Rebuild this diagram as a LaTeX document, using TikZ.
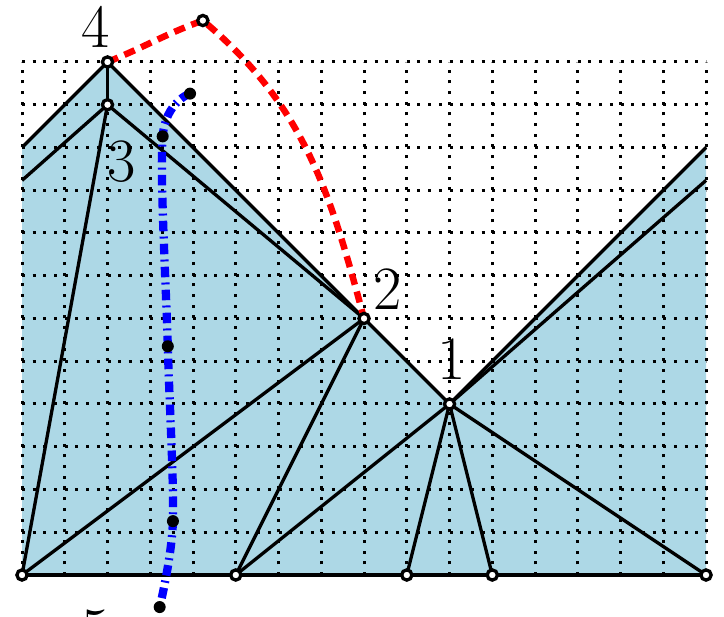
\documentclass[tikz,border=0pt]{standalone}
\usepackage{tikz}
\usetikzlibrary{arrows.meta,positioning}
\definecolor{lakeblue}{RGB}{173,216,230}
\tikzset{pt/.style={circle,draw,fill=white,line width=2.2pt,minimum size=6.8pt,inner sep=0pt},
bdot/.style={circle,fill=black,minimum size=8pt,inner sep=0pt},
seg/.style={line width=2.2pt},
lbl/.style={font=\fontsize{41}{45}\selectfont,inner sep=0pt},
griddot/.style={line width=2pt,dash pattern=on 2pt off 5.113pt},
redpath/.style={red,line width=4.3pt,dash pattern=on 7.5pt off 4.7pt},
bluepath/.style={blue,line width=5.5pt,dash pattern=on 7pt off 3.5pt on 1.3pt off 3.5pt}}
\begin{document}
\begin{tikzpicture}
\useasboundingbox(-0.515,-0.96)rectangle(16.42,13.45);
\coordinate(p1)at(10,4);\coordinate(p2)at(8,6);\coordinate(p3)at(2,11);\coordinate(p4)at(2,12);
\coordinate(a)at(0,0);\coordinate(b)at(5,0);\coordinate(c)at(9,0);\coordinate(d)at(11,0);\coordinate(e)at(16,0);
\coordinate(l1)at(0,10);\coordinate(l2)at(0,9.23);\coordinate(r1)at(16,10);\coordinate(r2)at(16,9.23);
\coordinate(q)at(4.23,12.97);
\coordinate(s1)at(3.93,11.26);\coordinate(s2)at(3.29,10.26);\coordinate(s3)at(3.41,5.35);\coordinate(s4)at(3.53,1.26);\coordinate(s5)at(3.22,-0.75);
% shaded region and grid
\fill[lakeblue](a)--(e)--(r1)--(p1)--(p2)--(p4)--(l1)--cycle;
\draw[griddot](0,0)grid(16,12);
\foreach\u/\v in{p4/p3,p4/l1,p3/l2,p4/p2,p2/p1,p3/p2,p3/a,a/p2,b/p2,b/p1,c/p1,d/p1,e/p1,p1/r1,p1/r2,a/e}\draw[seg](\u)--(\v);
% paths
\draw[redpath](p4)to[out=22,in=200](q)to[out=-40,in=105](p2);
\draw[bluepath]plot[smooth]coordinates{(s1)(s2)(s3)(s4)(s5)};
\foreach\s in{s1,s2,s3,s4,s5}\node[bdot](n\s)at(\s){};
\foreach\p in{p1,p2,p3,p4,a,b,c,d,e,q}\node[pt](n\p)at(\p){};
\node[lbl](t4)at(1.73,12.81){4};
\node[lbl](t3)at(2.33,9.67){3};
\node[lbl](t2)at(8.55,6.69){2};
\node[lbl](t1)at(10.05,5.04){1};
\node[lbl](t5)at(1.72,-1.31){5};
\end{tikzpicture}
\end{document}
